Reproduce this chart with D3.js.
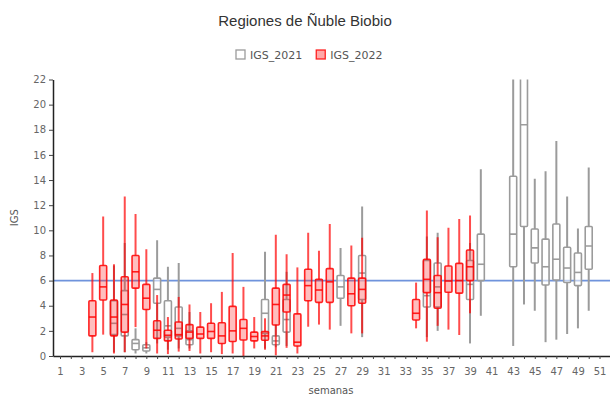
<!DOCTYPE html>
<html>
<head>
<meta charset="utf-8">
<script src="https://cdn.jsdelivr.net/npm/d3@7"></script>
<style>
  body { margin: 0; background: #fff; }
  svg { display: block; }
</style>
</head>
<body>
<div id="chart"></div>
<script>
const width = 610;
const height = 401;
const margin = {top: 79.5, right: 0, bottom: 45, left: 53};

// [semana, min, q1, mediana, q3, max]
const igs2021 = [
  [6, 0.3, 1.7, 2.6, 4.4, 7.2],
  [7, 0.3, 1.6, 3.3, 5.2, 9.0],
  [8, 0.2, 0.5, 1.0, 1.3, 2.2],
  [9, 0.2, 0.4, 0.65, 0.9, 1.1],
  [10, 1.0, 4.2, 5.3, 6.2, 9.2],
  [11, 0.5, 1.5, 2.4, 4.4, 7.1],
  [12, 0.6, 1.6, 2.2, 3.9, 7.4],
  [13, 0.6, 0.9, 1.3, 2.0, 3.5],
  [20, 0.6, 1.8, 3.4, 4.5, 8.3],
  [21, 0.7, 0.9, 1.2, 1.6, 2.5],
  [22, 0.8, 1.9, 2.9, 4.5, 6.7],
  [27, 2.4, 4.6, 5.5, 6.4, 8.6],
  [29, 1.5, 4.5, 6.6, 8.0, 11.9],
  [35, 1.5, 3.9, 4.8, 7.6, 9.5],
  [36, 2.0, 3.9, 5.5, 7.4, 9.8],
  [39, 1.0, 4.5, 5.7, 7.6, 9.0],
  [40, 3.2, 6.0, 7.3, 9.7, 14.85],
  [43, 0.8, 7.1, 9.7, 14.3, 24],
  [44, 4.1, 10.3, 18.4, 23, 25],
  [45, 3.6, 7.4, 8.6, 10.1, 14.1],
  [46, 1.1, 5.65, 7.1, 9.3, 14.7],
  [47, 1.3, 6.05, 7.7, 10.5, 17.1],
  [48, 1.75, 5.85, 7.0, 8.65, 12.7],
  [49, 2.2, 5.6, 6.65, 8.2, 10.15],
  [50, 3.6, 6.9, 8.75, 10.3, 15.0]
];

const igs2022 = [
  [4, 0.3, 1.6, 3.1, 4.4, 6.6],
  [5, 1.7, 4.45, 5.5, 7.2, 11.1],
  [6, 0.2, 1.6, 3.1, 4.45, 7.3],
  [7, 0.3, 1.9, 4.1, 6.3, 12.7],
  [8, 2.3, 5.4, 6.7, 8.0, 11.3],
  [9, 0.6, 3.7, 4.6, 5.7, 8.5],
  [10, 0.2, 1.4, 2.05, 2.8, 4.85],
  [11, 0.15, 1.2, 1.65, 2.05, 3.1],
  [12, 0.35, 1.35, 1.7, 2.7, 4.7],
  [13, 0.4, 1.4, 1.9, 2.5, 4.1],
  [14, 0.2, 1.4, 1.75, 2.3, 3.5],
  [15, 0.3, 1.4, 1.95, 2.6, 4.2],
  [16, 0.15, 1.0, 1.6, 2.65, 5.1],
  [17, 0.2, 1.15, 2.0, 3.95, 8.2],
  [18, 0.0, 1.27, 2.2, 2.9, 5.5],
  [19, 0.6, 1.2, 1.55, 1.9, 3.1],
  [20, 0.5, 1.25, 1.6, 1.94, 3.0],
  [21, 0.05, 2.47, 4.1, 5.4, 9.65],
  [22, 0.65, 3.5, 4.85, 5.7, 8.1],
  [23, 0.2, 0.8, 1.1, 3.35, 7.05],
  [24, 2.33, 4.4, 5.6, 6.9, 9.8],
  [25, 2.5, 4.27, 5.25, 6.1, 8.37],
  [26, 2.1, 4.27, 5.9, 6.95, 10.5],
  [28, 1.8, 4.0, 4.95, 6.2, 8.8],
  [29, 1.8, 4.2, 5.3, 6.2, 9.4],
  [34, 2.2, 2.86, 3.4, 4.5, 5.84],
  [35, 1.14, 5.04, 6.1, 7.7, 11.57],
  [36, 2.4, 3.8, 5.04, 6.4, 9.44],
  [37, 2.1, 5.07, 5.97, 7.16, 10.2],
  [38, 1.67, 5.0, 6.0, 7.37, 10.9],
  [39, 3.4, 6.0, 7.1, 8.43, 11.17]
];

const yTicks = d3.range(0, 23, 2);
const xTicks = d3.range(1, 53);
const referencia = 6;
const series = [
  {name: 'IGS_2021', data: igs2021, stroke: '#9b9b9b', fill: 'rgba(255,255,255,0.55)', whisker: '#9b9b9b'},
  {name: 'IGS_2022', data: igs2022, stroke: 'rgba(255,0,0,0.85)', fill: 'rgba(255,40,40,0.3)', whisker: 'rgba(255,0,0,0.7)'}
];

const x = d3.scaleLinear()
    .domain([0.35, 52])
    .range([margin.left, 610.3]);

const y = d3.scaleLinear()
    .domain([0, 22])
    .range([height - margin.bottom, margin.top]);

const svg = d3.select('#chart')
    .append('svg')
    .attr('width', width)
    .attr('height', height);

svg.append('defs').append('clipPath')
    .attr('id', 'plot-clip')
    .append('rect')
    .attr('x', margin.left)
    .attr('y', y(22))
    .attr('width', width - margin.left)
    .attr('height', y(0) - y(22));

// titulo
svg.append('text')
    .attr('x', 305)
    .attr('y', 26)
    .attr('text-anchor', 'middle')
    .style('font-family', 'Liberation Sans, Arial, sans-serif')
    .style('font-size', '15px')
    .style('fill', '#333')
    .text('Regiones de Ñuble Biobio');

// leyenda
const legend = svg.append('g')
    .attr('transform', 'translate(236,55)');
let lx = 0;
series.forEach(s => {
    legend.append('rect')
        .attr('x', lx)
        .attr('y', -5)
        .attr('width', 9)
        .attr('height', 9)
        .attr('fill', s.name === 'IGS_2021' ? '#fff' : 'rgba(255,60,60,0.45)')
        .attr('stroke', s.stroke)
        .attr('stroke-width', 1.3);
    const t = legend.append('text')
        .attr('x', lx + 14)
        .attr('y', 4)
        .style('font-family', 'DejaVu Sans, sans-serif')
        .style('font-size', '11px')
        .style('fill', '#555')
        .text(s.name);
    lx += 14 + t.node().getComputedTextLength() + 14;
});

// linea de referencia
svg.append('line')
    .attr('x1', margin.left)
    .attr('x2', width)
    .attr('y1', y(referencia))
    .attr('y2', y(referencia))
    .attr('stroke', '#6f93dc')
    .attr('stroke-width', 1.6);

// cajas
const boxW = 7;
const plot = svg.append('g').attr('clip-path', 'url(#plot-clip)');

series.forEach(s => {
    const g = plot.append('g')
        .selectAll('g')
        .data(s.data)
        .join('g');

    g.append('line')
        .attr('x1', d => x(d[0]))
        .attr('x2', d => x(d[0]))
        .attr('y1', d => y(d[1]))
        .attr('y2', d => y(d[2]))
        .attr('stroke', s.whisker)
        .attr('stroke-width', 2);

    g.append('line')
        .attr('x1', d => x(d[0]))
        .attr('x2', d => x(d[0]))
        .attr('y1', d => y(d[4]))
        .attr('y2', d => y(d[5]))
        .attr('stroke', s.whisker)
        .attr('stroke-width', 2);

    g.append('rect')
        .attr('x', d => x(d[0]) - boxW / 2)
        .attr('y', d => y(d[4]))
        .attr('width', boxW)
        .attr('height', d => y(d[2]) - y(d[4]))
        .attr('rx', 1)
        .attr('fill', s.fill)
        .attr('stroke', s.stroke)
        .attr('stroke-width', 1.6);

    g.append('line')
        .attr('x1', d => x(d[0]) - boxW / 2)
        .attr('x2', d => x(d[0]) + boxW / 2)
        .attr('y1', d => y(d[3]))
        .attr('y2', d => y(d[3]))
        .attr('stroke', s.stroke)
        .attr('stroke-width', 1.6);
});

// ejes
const xAxis = svg.append('g')
    .attr('transform', `translate(0,${y(0)})`)
    .call(d3.axisBottom(x)
        .tickValues(xTicks)
        .tickSize(3)
        .tickSizeOuter(0)
        .tickFormat(d => d % 2 === 1 ? d : ''));
xAxis.select('.domain').attr('stroke', '#222').attr('stroke-width', 1.5);
xAxis.selectAll('.tick line').attr('stroke', '#444');
xAxis.selectAll('.tick text')
    .attr('dy', '1.25em')
    .style('font-family', 'DejaVu Sans, sans-serif')
    .style('font-size', '10px')
    .style('fill', '#666');

const yAxis = svg.append('g')
    .attr('transform', `translate(${margin.left},0)`)
    .call(d3.axisLeft(y)
        .tickValues(yTicks)
        .tickSize(4)
        .tickSizeOuter(0));
yAxis.select('.domain').attr('stroke', '#222').attr('stroke-width', 1.5);
yAxis.selectAll('.tick line').attr('stroke', '#444');
yAxis.selectAll('.tick text')
    .style('font-family', 'DejaVu Sans, sans-serif')
    .style('font-size', '10px')
    .style('fill', '#666');

svg.append('text')
    .attr('x', 331)
    .attr('y', 394)
    .attr('text-anchor', 'middle')
    .style('font-family', 'DejaVu Sans, sans-serif')
    .style('font-size', '10px')
    .style('fill', '#555')
    .text('semanas');

svg.append('text')
    .attr('transform', `translate(18,${(y(0) + y(22)) / 2}) rotate(-90)`)
    .attr('text-anchor', 'middle')
    .style('font-family', 'DejaVu Sans, sans-serif')
    .style('font-size', '10px')
    .style('fill', '#555')
    .text('IGS');
</script>
</body>
</html>
